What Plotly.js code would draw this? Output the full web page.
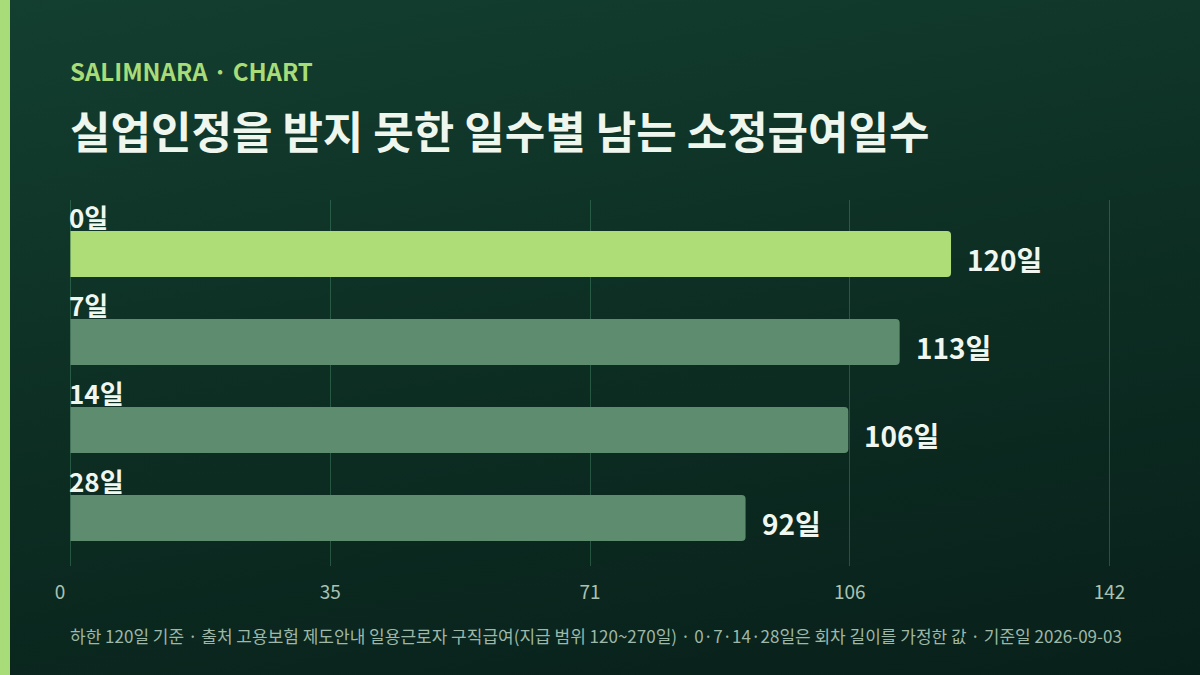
<!DOCTYPE html>
<html>
<head>
<meta charset="utf-8">
<script src="https://cdn.plot.ly/plotly-3.0.1.min.js"></script>
<style>
  html, body { margin: 0; padding: 0; }
  #wrap {
    position: relative;
    width: 1200px;
    height: 675px;
    background: linear-gradient(170deg, #133f30 0%, #0d2e23 50%, #08201a 100%);
    overflow: hidden;
  }
  #strip { position: absolute; left: 0; top: 0; width: 10px; height: 675px; background: #a8dc78; }
  #chart { position: absolute; left: 0; top: 0; width: 1200px; height: 675px; }
</style>
</head>
<body>
<div id="wrap">
  <div id="chart"></div>
  <div id="strip"></div>
</div>
<script>
// 실업인정을 받지 못한 일수 -> 남는 소정급여일수
const categories = ['0일', '7일', '14일', '28일'];
const values = [120, 113, 106, 92];
const barColors = ['#aedd78', '#5e8c6f', '#5e8c6f', '#5e8c6f'];
const axisMax = 141.6;
const tickVals = [0, 35.4, 70.8, 106.2, 141.6];
const tickText = ['0\u2007\u2007', '35', '71', '106', '142'];

const FONT = '"Noto Sans CJK KR", "Noto Sans", sans-serif';

const trace = {
    type: 'bar',
    orientation: 'h',
    x: values,
    y: categories,
    width: 0.523,
    marker: { color: barColors, cornerradius: 4 },
    hoverinfo: 'skip',
};

const catLabels = categories.map((c) => ({
    x: 0, y: c, xref: 'x', yref: 'y',
    text: '<b>' + c + '</b>',
    showarrow: false, xanchor: 'left', yanchor: 'middle',
    xshift: -3, yshift: 38,
    font: { family: FONT, size: 26, color: '#f0f7f0' },
}));

const valueLabels = values.map((v, i) => ({
    x: v, y: categories[i], xref: 'x', yref: 'y',
    text: '<b>' + v + '일</b>',
    showarrow: false, xanchor: 'left', yanchor: 'middle',
    xshift: 14, yshift: -5,
    font: { family: FONT, size: 28, color: '#f0f7f0' },
}));

const headLabels = [
    {
        x: 0, y: 1.355, xref: 'paper', yref: 'paper', xshift: -1,
        text: '<b>SALIMNARA · CHART</b>',
        showarrow: false, xanchor: 'left', yanchor: 'middle',
        font: { family: FONT, size: 24, color: '#a8dc78' },
    },
    {
        x: 0, y: 1.192, xref: 'paper', yref: 'paper', xshift: -1,
        text: '<b>실업인정을 받지 못한 일수별 남는 소정급여일수</b>',
        showarrow: false, xanchor: 'left', yanchor: 'middle',
        font: { family: FONT, size: 44, color: '#eef6ee' },
    },
    {
        x: 0, y: -0.191, xref: 'paper', yref: 'paper', xshift: -1,
        text: '하한 120일 기준 · 출처 고용보험 제도안내 일용근로자 구직급여(지급 범위 120~270일) · 0·7·14·28일은 회차 길이를 가정한 값 · 기준일 2026-09-03',
        showarrow: false, xanchor: 'left', yanchor: 'middle',
        font: { family: FONT, size: 17, color: '#9db8a8' },
    },
];

const layout = {
    width: 1200,
    height: 675,
    paper_bgcolor: 'rgba(0,0,0,0)',
    plot_bgcolor: 'rgba(0,0,0,0)',
    showlegend: false,
    margin: { l: 69, r: 89, t: 200, b: 109 },
    xaxis: {
        range: [-0.2, axisMax + 0.2],
        tickvals: tickVals,
        ticktext: tickText,
        showgrid: true,
        gridcolor: 'rgba(90,170,130,0.35)',
        gridwidth: 1,
        zeroline: false,
        showline: false,
        ticks: '',
        ticklabelstandoff: 13,
        tickfont: { family: FONT, size: 19, color: '#a9c2b2' },
        fixedrange: true,
    },
    yaxis: {
        type: 'category',
        range: [3.545, -0.614],
        showticklabels: false,
        showgrid: false,
        zeroline: false,
        showline: false,
        fixedrange: true,
    },
    annotations: [...headLabels, ...catLabels, ...valueLabels],
    hovermode: false,
};

Plotly.newPlot('chart', [trace], layout, { displayModeBar: false, staticPlot: true });
</script>
</body>
</html>
